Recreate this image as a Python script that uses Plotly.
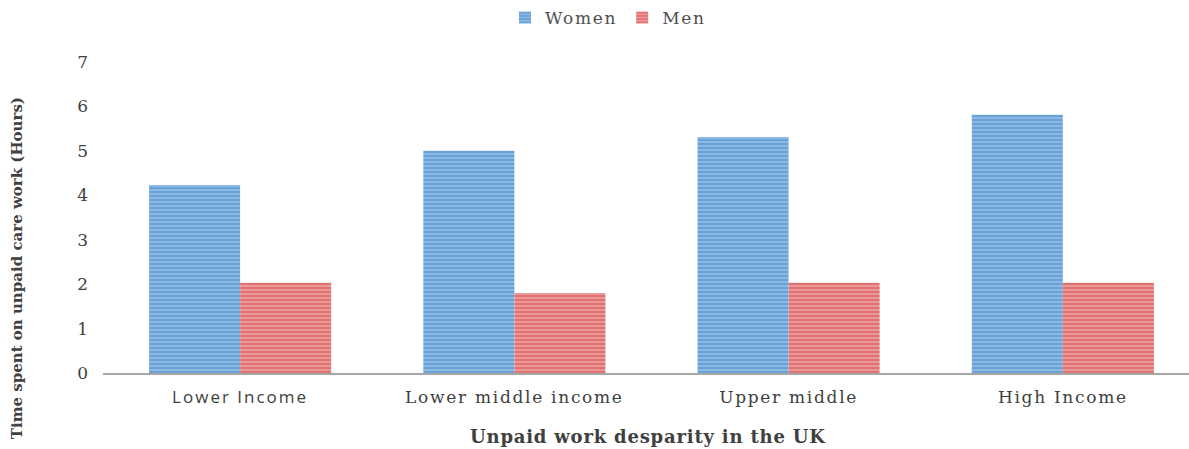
import plotly.graph_objects as go

categories = ["Lower Income", "Lower middle income", "Upper middle", "High Income"]
women = [4.23, 5.0, 5.31, 5.81]
men = [2.03, 1.8, 2.03, 2.03]
y_ticks = [0, 1, 2, 3, 4, 5, 6, 7]

SERIF = "DejaVu Serif"
LS = "letter-spacing:1.7px"
tick_text = ['<span style="font-family:Open Sans;letter-spacing:2px">Lower Income</span>'] + \
            [f'<span style="{LS}">{c}</span>' for c in categories[1:]]

fig = go.Figure()
fig.add_trace(go.Bar(
    x=categories, y=women, name=f'<span style="{LS}">Women</span>',
    marker=dict(color="#8fbce6", line=dict(width=0),
                pattern=dict(shape="-", fgcolor="#4688c8", size=4, solidity=0.55,
                             fillmode="overlay")),
))
fig.add_trace(go.Bar(
    x=categories, y=men, name=f'<span style="{LS}">Men</span>',
    marker=dict(color="#ec9c9c", line=dict(width=0),
                pattern=dict(shape="-", fgcolor="#d64848", size=4, solidity=0.55,
                             fillmode="overlay")),
))

fig.update_layout(
    width=1189, height=449,
    margin=dict(l=103, r=0, t=62, b=76),
    paper_bgcolor="white", plot_bgcolor="white",
    barmode="group", bargap=0.336, bargroupgap=0,
    font=dict(family=SERIF, color="#404040", size=16),
    legend=dict(orientation="h", x=0.465, xanchor="center", y=1.0, yref="container",
                yanchor="top", font=dict(size=17, color="#505050"),
                itemwidth=30, traceorder="normal"),
    xaxis=dict(
        range=[-0.5, 3.46], tickmode="array", tickvals=categories, ticktext=tick_text,
        showline=True, linecolor="#a6a6a6", linewidth=2, ticks="",
        ticklabelstandoff=8,
        tickfont=dict(size=17, color="#404040"), showgrid=False,
    ),
    yaxis=dict(
        range=[0, 7], tickvals=y_ticks, showgrid=False, zeroline=False,
        showline=False, ticks="", ticklabelstandoff=14,
        tickfont=dict(size=17, color="#404040"),
    ),
    showlegend=True,
)

fig.add_annotation(
    text="<b>Time spent on unpaid care work (Hours)</b>", textangle=-90,
    xref="paper", yref="paper", x=-0.079, y=(373 - 268) / 311, xanchor="center",
    yanchor="middle",
    showarrow=False, font=dict(size=15, color="#404040", family=SERIF),
)
fig.add_annotation(
    text='<b><span style="letter-spacing:0.8px">Unpaid work desparity in the UK</span></b>',
    xref="paper", yref="paper", x=(648 - 103) / 1086, y=-0.165,
    xanchor="center", yanchor="top",
    showarrow=False, font=dict(size=18, color="#404040", family=SERIF),
)

fig.write_html("out.html")
